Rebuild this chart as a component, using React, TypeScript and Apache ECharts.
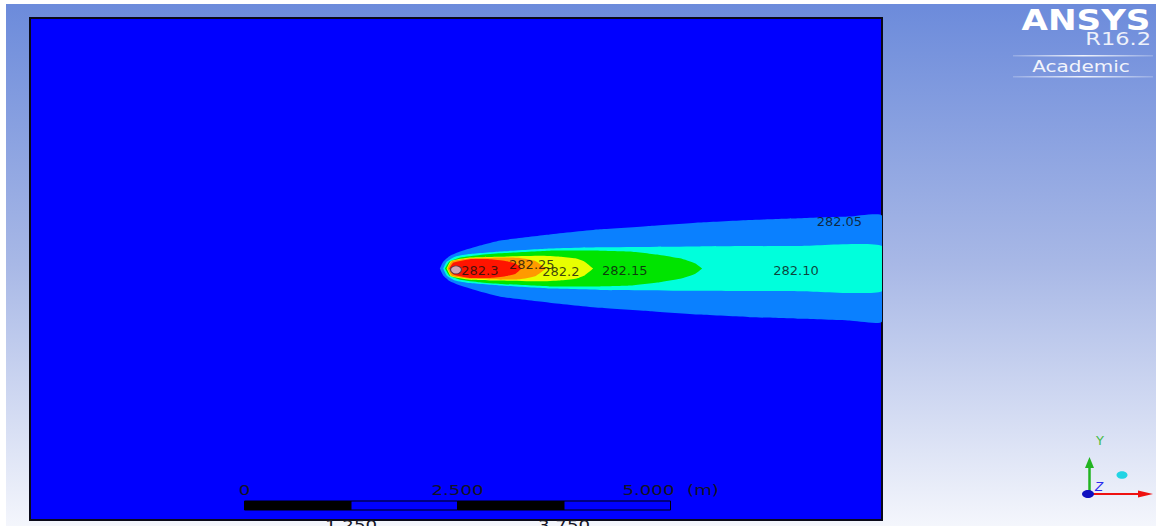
import React, { useEffect, useRef } from "react";
import * as echarts from "echarts";

// axis extents (metres)
const xMin = 0;
const xMax = 10;
const yMin = -2.95;
const yMax = 2.94;

// contour bands: x positions (m) and half-widths (m) about the plume axis
const lightBlueX = [4.81, 4.85, 4.93, 5.05, 5.28, 5.52, 6.1, 6.69, 7.28, 7.86, 8.45, 9.04, 9.62, 10.0];
const lightBlueHalf = [0, 0.08, 0.15, 0.2, 0.27, 0.33, 0.4, 0.46, 0.5, 0.54, 0.57, 0.59, 0.61, 0.62];
const cyanX = [4.85, 4.89, 4.99, 5.16, 5.52, 6.1, 6.69, 7.86, 9.04, 10.0];
const cyanHalf = [0, 0.08, 0.14, 0.17, 0.2, 0.235, 0.25, 0.26, 0.265, 0.265];
const greenX = [4.87, 4.92, 5.05, 5.28, 5.52, 6.1, 6.69, 7.04, 7.39, 7.63, 7.81, 7.89];
const greenHalf = [0, 0.08, 0.13, 0.16, 0.18, 0.21, 0.21, 0.2, 0.16, 0.12, 0.06, 0];
const yellowX = [4.89, 4.94, 5.16, 5.52, 5.99, 6.22, 6.4, 6.51, 6.61];
const yellowHalf = [0, 0.09, 0.13, 0.14, 0.15, 0.14, 0.12, 0.08, 0];
const orangeX = [4.9, 4.95, 5.16, 5.52, 5.75, 5.93, 6.06];
const orangeHalf = [0, 0.085, 0.12, 0.13, 0.125, 0.09, 0];
const redX = [4.92, 4.97, 5.16, 5.4, 5.58, 5.7, 5.77];
const redHalf = [0, 0.07, 0.11, 0.11, 0.09, 0.06, 0];

// contour labels
const contourLabels = ["282.3", "282.25", "282.2", "282.15", "282.10", "282.05"];
const contourLabelX = [5.28, 5.89, 6.23, 6.98, 8.99, 9.5];
const contourLabelY = [-0.018, 0.053, -0.04, -0.02, -0.02, 0.557];

// source point
const sourceX = [5.0];
const sourceY = [-0.015];

// scale bar
const scaleTicks = [0, 1.25, 2.5, 3.75, 5];
const scaleLabels = ["0", "1.250", "2.500", "3.750", "5.000"];

const bands = [
  { name: "282.05", x: lightBlueX, half: lightBlueHalf, color: "#0a80ff" },
  { name: "282.10", x: cyanX, half: cyanHalf, color: "#00ffdc" },
  { name: "282.15", x: greenX, half: greenHalf, color: "#00e400" },
  { name: "282.2", x: yellowX, half: yellowHalf, color: "#e8ff00" },
  { name: "282.25", x: orangeX, half: orangeHalf, color: "#ff9a00" },
  { name: "282.3", x: redX, half: redHalf, color: "#ff1400" },
];

export default function App() {
  const ref = useRef<HTMLDivElement>(null);

  useEffect(() => {
    if (!ref.current) return;
    const chart = echarts.init(ref.current, null, { renderer: "svg" });

    const bandSeries = bands.map((b, idx) => ({
      type: "custom",
      name: b.name,
      clip: true,
      z: 2 + idx,
      data: [[b.x[0], 0]],
      renderItem: (params: any, api: any) => {
        const upper = b.x.map((x, i) => api.coord([x, b.half[i]]));
        const lower = b.x.map((x, i) => api.coord([x, -b.half[i]])).reverse();
        return {
          type: "polygon",
          shape: { points: upper.concat(lower), smooth: 0.15 },
          style: { fill: b.color },
        };
      },
    }));

    // scale bar graphics (chart-pixel layout)
    const sbX0 = 238.5;
    const pxPerM = 85.2;
    const sbY = 497;
    const sbH = 9;
    const scaleGraphics: any[] = [];
    for (let i = 0; i < scaleTicks.length - 1; i++) {
      scaleGraphics.push({
        type: "rect",
        z: 100,
        shape: {
          x: sbX0 + scaleTicks[i] * pxPerM,
          y: sbY,
          width: (scaleTicks[i + 1] - scaleTicks[i]) * pxPerM,
          height: sbH,
        },
        style: { fill: i % 2 === 0 ? "#000000" : "#0000ff", stroke: "#000", lineWidth: 1 },
      });
    }
    scaleTicks.forEach((t, i) => {
      const top = i % 2 === 0;
      const last = i === scaleTicks.length - 1;
      scaleGraphics.push({
        type: "text",
        z: 100,
        x: sbX0 + t * pxPerM + (last ? 4 : 0),
        y: top ? 486 : 514,
        scaleX: 1.3,
        style: {
          text: scaleLabels[i],
          fontFamily: "DejaVu Sans",
          fontSize: 14,
          fill: "#141424",
          align: last ? "right" : "center",
          verticalAlign: top ? "middle" : "top",
        },
      });
    });
    scaleGraphics.push({
      type: "text",
      z: 100,
      x: 697,
      y: 486,
      scaleX: 1.3,
      style: {
        text: "(m)",
        fontFamily: "DejaVu Sans",
        fontSize: 14,
        fill: "#141424",
        align: "center",
        verticalAlign: "middle",
      },
    });

    const lineFill = {
      type: "linear", x: 0, y: 0, x2: 1, y2: 0,
      colorStops: [
        { offset: 0, color: "rgba(255,255,255,0.2)" },
        { offset: 0.5, color: "rgba(255,255,255,0.9)" },
        { offset: 1, color: "rgba(255,255,255,0.2)" },
      ],
    };

    const logo: any[] = [
      {
        type: "text",
        z: 100,
        x: 1080,
        y: 16,
        scaleX: 1.22,
        style: {
          text: "ANSYS",
          fontFamily: "DejaVu Sans",
          fontWeight: "bold",
          fontSize: 28,
          fill: "#ffffff",
          align: "center",
          verticalAlign: "middle",
        },
      },
      {
        type: "text",
        z: 100,
        x: 1145,
        y: 35,
        scaleX: 1.25,
        style: {
          text: "R16.2",
          fontFamily: "DejaVu Sans",
          fontSize: 18,
          fill: "#eef1fa",
          align: "right",
          verticalAlign: "middle",
        },
      },
      { type: "rect", z: 100, shape: { x: 1007, y: 51, width: 140, height: 1.5 }, style: { fill: lineFill } },
      {
        type: "text",
        z: 100,
        x: 1075,
        y: 62,
        scaleX: 1.25,
        style: {
          text: "Academic",
          fontFamily: "DejaVu Sans",
          fontSize: 16,
          fill: "#f2f4fb",
          align: "center",
          verticalAlign: "middle",
        },
      },
      { type: "rect", z: 100, shape: { x: 1007, y: 72, width: 140, height: 1.5 }, style: { fill: lineFill } },
    ];

    const triad: any[] = [
      { type: "line", z: 100, shape: { x1: 1083.5, y1: 489, x2: 1083.5, y2: 462 }, style: { stroke: "#22b422", lineWidth: 2.5 } },
      { type: "polygon", z: 100, shape: { points: [[1079, 464], [1088, 464], [1083.5, 453]] }, style: { fill: "#22b422" } },
      { type: "line", z: 100, shape: { x1: 1086, y1: 490, x2: 1134, y2: 490 }, style: { stroke: "#ee1111", lineWidth: 2 } },
      { type: "polygon", z: 100, shape: { points: [[1132, 486.5], [1132, 493.5], [1147, 490]] }, style: { fill: "#ee1111" } },
      { type: "ellipse", z: 101, shape: { cx: 1082, cy: 490, rx: 6, ry: 4 }, style: { fill: "#1010c0" } },
      { type: "ellipse", z: 100, shape: { cx: 1116, cy: 471, rx: 5.5, ry: 3.8 }, style: { fill: "#22d4e4" } },
      {
        type: "text", z: 100, x: 1094, y: 436,
        style: { text: "Y", fontFamily: "DejaVu Sans", fontSize: 13, fill: "#44bb44", align: "center", verticalAlign: "middle" },
      },
      {
        type: "text", z: 102, x: 1093, y: 483,
        style: { text: "Z", fontFamily: "DejaVu Sans", fontStyle: "italic", fontSize: 12, fill: "#2a2aee", align: "center", verticalAlign: "middle" },
      },
    ];

    chart.setOption({
      animation: false,
      backgroundColor: "transparent",
      grid: {
        left: 24,
        top: 14,
        width: 852,
        height: 502,
        show: true,
        backgroundColor: "#0000ff",
        borderColor: "#0a0a1a",
        borderWidth: 2,
      },
      xAxis: { type: "value", min: xMin, max: xMax, show: false },
      yAxis: { type: "value", min: yMin, max: yMax, show: false },
      series: [
        ...bandSeries,
        {
          type: "scatter",
          z: 20,
          data: sourceX.map((x, i) => [x, sourceY[i]]),
          symbol: "circle",
          symbolSize: [11, 8],
          itemStyle: { color: "#c8cce4", borderColor: "#333344", borderWidth: 1 },
        },
        {
          type: "scatter",
          z: 30,
          symbolSize: 0,
          data: contourLabels.map((t, i) => ({ name: t, value: [contourLabelX[i], contourLabelY[i]] })),
          label: {
            show: true,
            position: "inside",
            formatter: "{b}",
            fontFamily: "DejaVu Sans",
            fontSize: 13,
            color: "#101010",
          },
        },
      ],
      graphic: [...scaleGraphics, ...logo, ...triad],
    });

    return () => chart.dispose();
  }, []);

  return (
    <div
      ref={ref}
      style={{
        position: "absolute",
        left: 6,
        top: 4,
        width: 1150,
        height: 522,
        background: "linear-gradient(to bottom, #6c8bdb 0%, #a8b8e6 50%, #f4f6fc 100%)",
      }}
    />
  );
}
